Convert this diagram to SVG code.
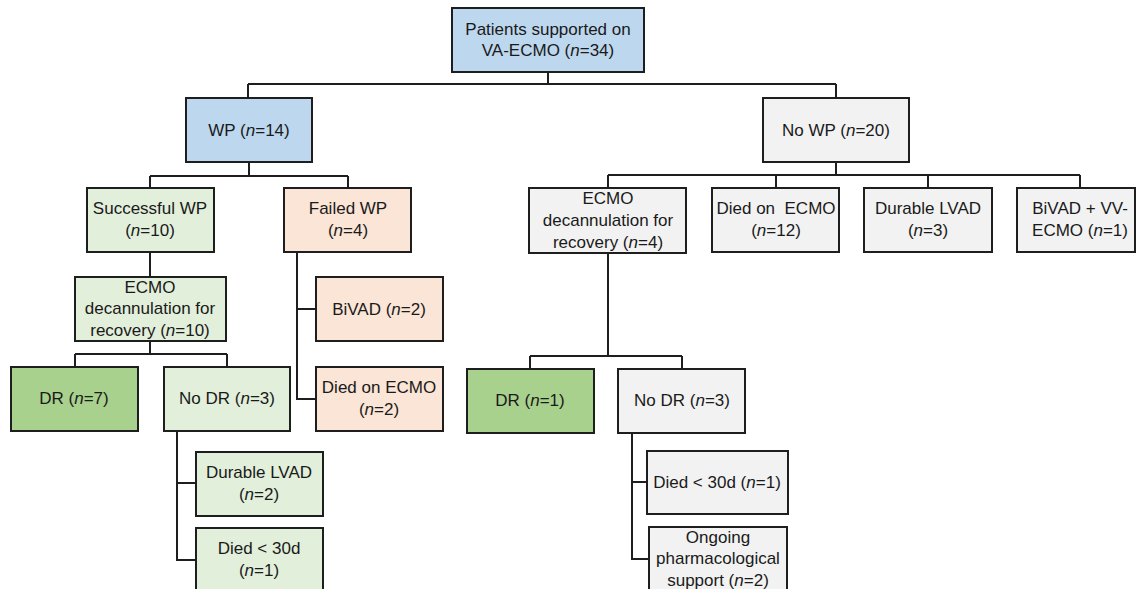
<svg xmlns="http://www.w3.org/2000/svg" width="1136" height="589" viewBox="0 0 1136 589">
<style>
.b{stroke:#1e1e1e;stroke-width:2}
.blue{fill:#BDD7EE}.lg{fill:#E2EFDA}.dg{fill:#A9D18E}.pe{fill:#FBE5D6}.gr{fill:#F2F2F2}
text{font-family:"Liberation Sans",Arial,sans-serif;font-size:17px;fill:#1a1a1a;text-anchor:middle;white-space:pre}
.i{font-style:italic}
.c{fill:none;stroke:#1e1e1e;stroke-width:2}
</style>
<rect width="1136" height="589" fill="#fff"/>
<g id="connectors">
<path class="c" d="M548,72V84M248,84H836M248,84V98M836,84V98"/>
<path class="c" d="M249,162V176M150,176H348M150,176V188M348,176V188"/>
<path class="c" d="M150,252V277"/>
<path class="c" d="M150,341V354M75,354H227M75,354V367M227,354V367"/>
<path class="c" d="M177,431V560H196M177,483H196"/>
<path class="c" d="M297,252V399H316M297,309H316"/>
<path class="c" d="M836,162V175M608,175H1080M608,175V188M776,175V188M928,175V188M1080,175V188"/>
<path class="c" d="M608,253V356M530,356H682M530,356V369M682,356V369"/>
<path class="c" d="M632,433V559H649M632,482H647"/>
</g>
<g id="root"><rect class="b blue" x="452" y="8" width="192" height="64"/>
<text x="548" y="35">Patients supported on</text><text x="548" y="56">VA-ECMO (<tspan class="i">n</tspan>=34)</text></g>
<g id="wp"><rect class="b blue" x="186" y="98" width="126" height="64"/>
<text x="249" y="136">WP (<tspan class="i">n</tspan>=14)</text></g>
<g id="nowp"><rect class="b gr" x="763" y="98" width="146" height="64"/>
<text x="836" y="136">No WP (<tspan class="i">n</tspan>=20)</text></g>
<g id="successful"><rect class="b lg" x="87" y="188" width="127" height="64"/>
<text x="150" y="214">Successful WP</text><text x="150" y="236">(<tspan class="i">n</tspan>=10)</text></g>
<g id="failed"><rect class="b pe" x="284" y="188" width="127" height="64"/>
<text x="348" y="214">Failed WP</text><text x="348" y="236">(<tspan class="i">n</tspan>=4)</text></g>
<g id="ecmo-left"><rect class="b lg" x="75" y="277" width="151" height="64"/>
<text x="150" y="293">ECMO</text><text x="150" y="314">decannulation for</text><text x="150" y="336">recovery (<tspan class="i">n</tspan>=10)</text></g>
<g id="bivad"><rect class="b pe" x="316" y="277" width="127" height="64"/>
<text x="379" y="315">BiVAD (<tspan class="i">n</tspan>=2)</text></g>
<g id="died-ecmo-left"><rect class="b pe" x="316" y="367" width="127" height="64"/>
<text x="379" y="393">Died on ECMO</text><text x="379" y="415">(<tspan class="i">n</tspan>=2)</text></g>
<g id="dr-left"><rect class="b dg" x="11" y="367" width="127" height="64"/>
<text x="74" y="404">DR (<tspan class="i">n</tspan>=7)</text></g>
<g id="nodr-left"><rect class="b lg" x="164" y="367" width="126" height="64"/>
<text x="227" y="404">No DR (<tspan class="i">n</tspan>=3)</text></g>
<g id="lvad-left"><rect class="b lg" x="196" y="452" width="127" height="64"/>
<text x="259" y="478">Durable LVAD</text><text x="259" y="500">(<tspan class="i">n</tspan>=2)</text></g>
<g id="died30-left"><rect class="b lg" x="196" y="528" width="127" height="66"/>
<text x="259" y="554">Died &lt; 30d</text><text x="259" y="576">(<tspan class="i">n</tspan>=1)</text></g>
<g id="ecmo-right"><rect class="b gr" x="529" y="188" width="157" height="65"/>
<text x="608" y="204">ECMO</text><text x="608" y="226">decannulation for</text><text x="608" y="248">recovery (<tspan class="i">n</tspan>=4)</text></g>
<g id="died-ecmo-right"><rect class="b gr" x="712" y="188" width="127" height="64"/>
<text x="776" y="214">Died on  ECMO</text><text x="776" y="236">(<tspan class="i">n</tspan>=12)</text></g>
<g id="lvad-right"><rect class="b gr" x="864" y="188" width="128" height="64"/>
<text x="928" y="214">Durable LVAD</text><text x="928" y="236">(<tspan class="i">n</tspan>=3)</text></g>
<g id="bivad-vv"><rect class="b gr" x="1017" y="188" width="118" height="64"/>
<text x="1080" y="214">BiVAD + VV-</text><text x="1080" y="236">ECMO (<tspan class="i">n</tspan>=1)</text></g>
<g id="dr-right"><rect class="b dg" x="467" y="369" width="127" height="64"/>
<text x="530" y="406">DR (<tspan class="i">n</tspan>=1)</text></g>
<g id="nodr-right"><rect class="b gr" x="618" y="369" width="127" height="64"/>
<text x="682" y="406">No DR (<tspan class="i">n</tspan>=3)</text></g>
<g id="died30-right"><rect class="b gr" x="647" y="451" width="141" height="63"/>
<text x="717" y="488">Died &lt; 30d (<tspan class="i">n</tspan>=1)</text></g>
<g id="ongoing"><rect class="b gr" x="649" y="527" width="138" height="67"/>
<text x="718" y="543">Ongoing</text><text x="718" y="564">pharmacological</text><text x="718" y="586">support (<tspan class="i">n</tspan>=2)</text></g>
</svg>
